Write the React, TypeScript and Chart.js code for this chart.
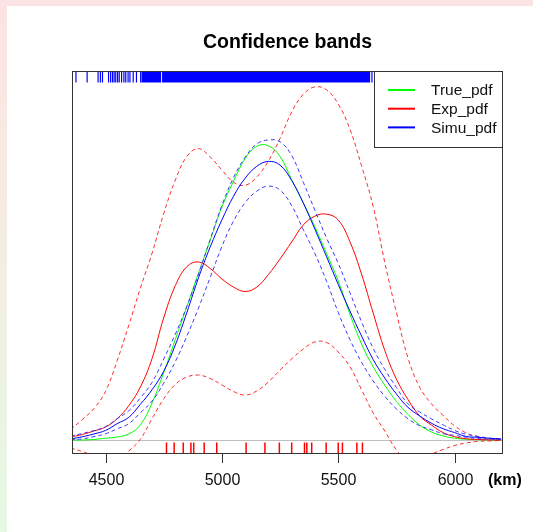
import React, { useEffect, useRef } from "react";
import { Chart, registerables } from "chart.js";

Chart.register(...registerables);

const chartTitle = "Confidence bands";
const unitLabel = "(km)";
const xTicks = [4500, 5000, 5500, 6000];
const xMin = 4356;
const xMax = 6208;
const yMin = -0.0791;
const yMax = 2.0847;

const xGrid = [
  4350, 4400, 4450, 4500, 4550, 4600, 4650, 4700, 4750, 4800,
  4850, 4900, 4950, 5000, 5050, 5100, 5150, 5200, 5250, 5300,
  5350, 5400, 5450, 5500, 5550, 5600, 5650, 5700, 5750, 5800,
  5850, 5900, 5950, 6000, 6050, 6100, 6150, 6200,
];

const truePdf = [
  0, 0, 0.003, 0.01, 0.017, 0.034, 0.085, 0.209, 0.381, 0.568,
  0.756, 0.945, 1.129, 1.316, 1.462, 1.59, 1.66, 1.662, 1.602, 1.47,
  1.338, 1.203, 1.053, 0.899, 0.712, 0.543, 0.414, 0.31, 0.218, 0.144,
  0.085, 0.045, 0.023, 0.01, 0.004, 0.002, 0, 0,
];

const expPdf = [
  0.017, 0.031, 0.051, 0.073, 0.12, 0.194, 0.3, 0.46, 0.69, 0.872,
  0.98, 1.006, 0.969, 0.91, 0.864, 0.839, 0.864, 0.935, 1.023, 1.119,
  1.215, 1.265, 1.276, 1.243, 1.121, 0.938, 0.718, 0.506, 0.344, 0.228,
  0.136, 0.085, 0.042, 0.019, 0.007, 0.003, 0.001, 0,
];

const expUpper = [
  0.06, 0.115, 0.177, 0.275, 0.448, 0.648, 0.859, 1.055, 1.279, 1.468,
  1.603, 1.646, 1.599, 1.526, 1.456, 1.439, 1.486, 1.576, 1.704, 1.853,
  1.953, 1.995, 1.978, 1.898, 1.757, 1.55, 1.32, 1.003, 0.72, 0.462,
  0.298, 0.205, 0.14, 0.08, 0.04, 0.018, 0.007, 0.002,
];

const expLower = [
  -0.045, -0.065, -0.09, -0.119, -0.107, -0.062, 0.005, 0.121, 0.232, 0.314,
  0.356, 0.367, 0.347, 0.311, 0.274, 0.254, 0.277, 0.328, 0.395, 0.458,
  0.514, 0.554, 0.551, 0.497, 0.415, 0.285, 0.153, 0.051, -0.056, -0.119,
  -0.124, -0.081, -0.054, -0.031, -0.017, -0.008, -0.005, -0.002,
];

const simuPdf = [
  0.006, 0.018, 0.034, 0.054, 0.092, 0.128, 0.202, 0.284, 0.388, 0.537,
  0.722, 0.918, 1.091, 1.243, 1.377, 1.479, 1.546, 1.574, 1.553, 1.466,
  1.339, 1.19, 1.035, 0.879, 0.729, 0.588, 0.455, 0.35, 0.26, 0.184,
  0.136, 0.095, 0.064, 0.042, 0.02, 0.015, 0.01, 0.006,
];

const simuUpper = [
  0.023, 0.037, 0.053, 0.075, 0.12, 0.165, 0.238, 0.326, 0.457, 0.598,
  0.757, 0.938, 1.134, 1.325, 1.482, 1.597, 1.673, 1.695, 1.685, 1.607,
  1.456, 1.297, 1.141, 0.998, 0.833, 0.669, 0.518, 0.399, 0.297, 0.204,
  0.158, 0.12, 0.086, 0.054, 0.032, 0.021, 0.01, 0.006,
];

const simuLower = [
  0.003, 0.006, 0.019, 0.035, 0.063, 0.092, 0.154, 0.22, 0.321, 0.443,
  0.588, 0.747, 0.919, 1.093, 1.237, 1.341, 1.406, 1.434, 1.412, 1.324,
  1.188, 1.053, 0.896, 0.721, 0.568, 0.44, 0.334, 0.247, 0.175, 0.12,
  0.081, 0.058, 0.036, 0.026, 0.016, 0.008, 0.005, 0.003,
];

// observed sample (red rug, bottom)
const expSample = [
  4762, 4795, 4834, 4867, 4879, 4924, 4978, 5104, 5185, 5247,
  5300, 5355, 5365, 5386, 5448, 5500, 5518, 5580, 5604,
];

// simulated sample (blue rug, top): isolated values and dense ranges
const simuSample = [
  4373, 4421, 4468, 4478, 4487, 4513, 4522, 4530, 4537, 4544,
  4552, 4559, 4569, 4579, 4587, 4597, 4605, 4619, 4633, 4651, 5645,
];
const simuDenseFrom = [4655, 4743];
const simuDenseTo = [4739, 5637];

const legendLabels = ["True_pdf", "Exp_pdf", "Simu_pdf"];
const legendColors = ["#00ff00", "#ff0000", "#0000ff"];

const FONT = "'Liberation Sans', Arial, Helvetica, sans-serif";

const rPlot = {
  id: "rPlot",
  beforeDatasetsDraw(chart: any) {
    const { ctx, chartArea: a, scales } = chart;
    const y0 = Math.round(scales.y.getPixelForValue(0)) + 0.5;
    ctx.save();
    ctx.strokeStyle = "#bebebe";
    ctx.lineWidth = 1;
    ctx.beginPath();
    ctx.moveTo(a.left, y0);
    ctx.lineTo(a.right, y0);
    ctx.stroke();
    ctx.restore();
  },
  afterDatasetsDraw(chart: any) {
    const { ctx, chartArea: a, scales } = chart;
    const sx = scales.x;
    const rugLen = (a.bottom - a.top) * 0.03;
    ctx.save();

    // red rug (bottom)
    ctx.strokeStyle = "#ff0000";
    ctx.lineWidth = 1.5;
    expSample.forEach((v) => {
      const px = sx.getPixelForValue(v);
      ctx.beginPath();
      ctx.moveTo(px, a.bottom);
      ctx.lineTo(px, a.bottom - rugLen);
      ctx.stroke();
    });

    // blue rug (top)
    ctx.strokeStyle = "#0000ff";
    ctx.fillStyle = "#0000ff";
    ctx.lineWidth = 1.2;
    simuSample.forEach((v) => {
      const px = sx.getPixelForValue(v);
      ctx.beginPath();
      ctx.moveTo(px, a.top);
      ctx.lineTo(px, a.top + rugLen);
      ctx.stroke();
    });
    simuDenseFrom.forEach((v, i) => {
      const p0 = sx.getPixelForValue(v);
      const p1 = sx.getPixelForValue(simuDenseTo[i]);
      ctx.fillRect(p0, a.top, p1 - p0, rugLen);
    });

    // box
    ctx.strokeStyle = "#333";
    ctx.lineWidth = 1;
    ctx.strokeRect(
      Math.round(a.left) + 0.5,
      Math.round(a.top) + 0.5,
      Math.round(a.right - a.left) - 1,
      Math.round(a.bottom - a.top) - 1
    );

    // x axis ticks and labels
    ctx.fillStyle = "#111";
    ctx.font = `16px ${FONT}`;
    ctx.textAlign = "center";
    ctx.textBaseline = "alphabetic";
    xTicks.forEach((t) => {
      const px = Math.round(sx.getPixelForValue(t)) + 0.5;
      ctx.beginPath();
      ctx.moveTo(px, a.bottom);
      ctx.lineTo(px, a.bottom + 9);
      ctx.stroke();
      ctx.fillText(String(t), px, a.bottom + 31);
    });

    // unit label
    ctx.font = `bold 16px ${FONT}`;
    ctx.textAlign = "left";
    ctx.fillStyle = "#000";
    ctx.fillText(unitLabel, a.right - 15, a.bottom + 31);

    // title
    ctx.font = `bold 19.5px ${FONT}`;
    ctx.textAlign = "center";
    ctx.fillText(chartTitle, (a.left + a.right) / 2, 48);

    // legend
    const lx0 = Math.round(a.right) - 129;
    const ly0 = Math.round(a.top);
    ctx.fillStyle = "#fff";
    ctx.fillRect(lx0, ly0, a.right - lx0, 76);
    ctx.strokeStyle = "#333";
    ctx.lineWidth = 1;
    ctx.strokeRect(lx0 + 0.5, ly0 + 0.5, Math.round(a.right) - lx0 - 1, 76);
    ctx.font = `15.5px ${FONT}`;
    ctx.textAlign = "left";
    ctx.textBaseline = "middle";
    legendLabels.forEach((lab, i) => {
      const y = ly0 + 19 + i * 18.7;
      ctx.strokeStyle = legendColors[i];
      ctx.lineWidth = 2;
      ctx.beginPath();
      ctx.moveTo(lx0 + 14, y);
      ctx.lineTo(lx0 + 41, y);
      ctx.stroke();
      ctx.fillStyle = "#111";
      ctx.fillText(lab, lx0 + 57, y + 1);
    });

    ctx.restore();
  },
};

export default function App() {
  const ref = useRef<HTMLCanvasElement>(null);

  useEffect(() => {
    document.body.style.margin = "0";
    const pts = (ys: number[]) => xGrid.map((x, i) => ({ x, y: ys[i] }));
    const ds = (label: string, ys: number[], color: string, dashed: boolean, order: number) => ({
      label,
      data: pts(ys),
      borderColor: color,
      backgroundColor: color,
      borderWidth: 1,
      borderDash: dashed ? [4, 3] : [],
      pointRadius: 0,
      fill: false,
      tension: 0.4,
      order,
    });
    const chart = new Chart(ref.current as HTMLCanvasElement, {
      type: "line",
      data: {
        datasets: [
          ds("Simu_pdf", simuPdf, "#0000ff", false, 1),
          ds("Simu_upper", simuUpper, "#3a3aff", true, 1),
          ds("Simu_lower", simuLower, "#3a3aff", true, 1),
          ds("Exp_pdf", expPdf, "#ff0000", false, 2),
          ds("Exp_upper", expUpper, "#ff2a2a", true, 2),
          ds("Exp_lower", expLower, "#ff2a2a", true, 2),
          ds("True_pdf", truePdf, "#00ff00", false, 3),
        ],
      },
      options: {
        animation: false,
        responsive: false,
        devicePixelRatio: 1,
        layout: { padding: { left: 72, right: 30, top: 71, bottom: 78 } },
        scales: {
          x: { type: "linear", min: xMin, max: xMax, display: false },
          y: { type: "linear", min: yMin, max: yMax, display: false },
        },
        plugins: {
          legend: { display: false },
          title: { display: false },
          tooltip: { enabled: false },
        },
        events: [],
      },
      plugins: [rPlot],
    });
    return () => chart.destroy();
  }, []);

  return (
    <div
      style={{
        position: "fixed",
        left: 0,
        top: 0,
        width: 533,
        height: 532,
        background: "#fff",
        overflow: "hidden",
      }}
    >
      <div
        style={{
          position: "absolute",
          left: 0,
          top: 0,
          width: 533,
          height: 6,
          background: "#fce4e4",
        }}
      />
      <div
        style={{
          position: "absolute",
          left: 0,
          top: 0,
          width: 7,
          height: 532,
          background: "linear-gradient(#fde3e3, #f3eee2 50%, #e5f9e3)",
        }}
      />
      <canvas
        ref={ref}
        width={533}
        height={532}
        style={{ position: "absolute", left: 0, top: 0, width: 533, height: 532 }}
      />
    </div>
  );
}
